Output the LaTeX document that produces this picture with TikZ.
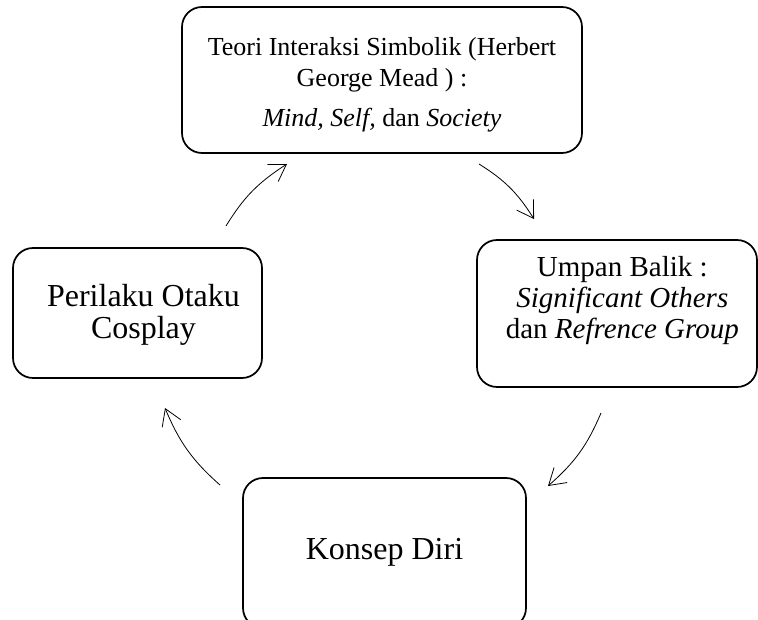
\documentclass[tikz,border=0pt]{standalone}
\usepackage{fontspec}
\setmainfont{Liberation Serif}
\usetikzlibrary{arrows.meta,bending}
\begin{document}
\begin{tikzpicture}[x=0.75pt,y=0.75pt,
  box/.style={draw=black,line width=1.3pt,rounded corners=15pt,align=center,inner sep=0pt},
  conn/.style={line width=0.6pt,-{Straight Barb[length=12pt,width=15pt,line width=0.6pt]},bend left=13}]
\useasboundingbox (0,0) rectangle (758,619);
\clip (0,0) rectangle (758,619);
\node[box,minimum width=300pt,minimum height=109.5pt,font=\fontsize{19.5}{23}\selectfont] (top) at (382,539)
  {\raisebox{-8.6pt}[0pt][0pt]{\begin{tabular}{@{}c@{}}Teori Interaksi Simbolik (Herbert\\ George Mead ) :\\[7pt] \textit{Mind, Self,} dan \textit{Society}\end{tabular}}};
\node[box,minimum width=186.75pt,minimum height=97.5pt,font=\fontsize{24}{24}\selectfont] (left) at (137.5,306)
  {\raisebox{-8.6pt}[0pt][0pt]{\begin{tabular}{@{}c@{}}\hspace*{9pt}Perilaku Otaku\\ \hspace*{9pt}Cosplay\end{tabular}}};
\node[box,minimum width=210pt,minimum height=110.25pt,font=\fontsize{21.75}{23.5}\selectfont] (right) at (617,305.5)
  {\raisebox{4pt}[0pt][0pt]{\begin{tabular}{@{}c@{}}\hspace*{8pt}Umpan Balik :\\ \hspace*{8pt}\textit{Significant Others}\\ \hspace*{8pt}dan \textit{Refrence Group}\end{tabular}}};
\node[box,minimum width=212.25pt,minimum height=112.5pt,font=\fontsize{24}{24}\selectfont] (bottom) at (384.5,66)
  {\raisebox{6pt}{Konsep Diri}};
\coordinate (a1s) at (226,393); \coordinate (a1e) at (287,455);
\coordinate (a2s) at (479,455); \coordinate (a2e) at (534,400);
\coordinate (a3s) at (601,206); \coordinate (a3e) at (548,133);
\coordinate (a4s) at (220,134); \coordinate (a4e) at (165,211);
\draw[conn] (a1s) to (a1e);
\draw[conn] (a2s) to (a2e);
\draw[conn] (a3s) to (a3e);
\draw[conn] (a4s) to (a4e);
\end{tikzpicture}
\end{document}
